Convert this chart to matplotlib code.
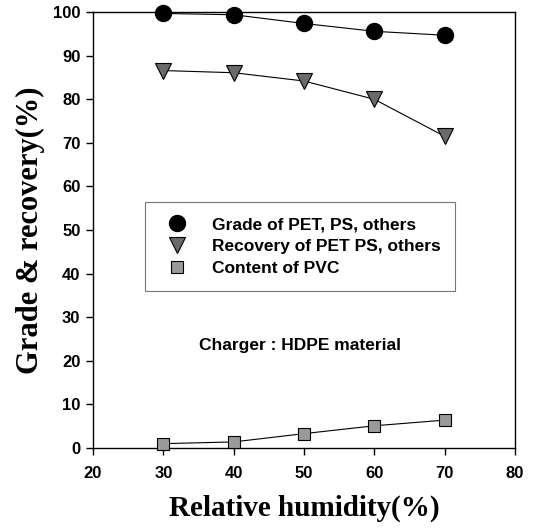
import matplotlib
matplotlib.use("Agg")
import matplotlib.pyplot as plt

humidity = [30, 40, 50, 60, 70]
grade = [99.7, 99.4, 97.4, 95.6, 94.7]
recovery = [86.6, 86.1, 84.2, 80.0, 71.5]
pvc_content = [1.0, 1.4, 3.3, 5.1, 6.4]

xticks = [20, 30, 40, 50, 60, 70, 80]
yticks = [0, 10, 20, 30, 40, 50, 60, 70, 80, 90, 100]

sans = "Liberation Sans"
serif = "Liberation Serif"

fig = plt.figure(figsize=(5.36, 5.28), dpi=100)
ax = fig.add_axes([0.1735, 0.1515, 0.7875, 0.8255])

ax.plot(humidity, grade, color="black", lw=0.8, marker="o", ms=11.5,
        mfc="black", mec="black", clip_on=False, zorder=3,
        label="Grade of PET, PS, others")
ax.plot(humidity, recovery, color="black", lw=0.8, marker="v", ms=11,
        mfc="#6a6a6a", mec="black", mew=0.8, clip_on=False, zorder=3,
        label="Recovery of PET PS, others")
ax.plot(humidity, pvc_content, color="black", lw=0.8, marker="s", ms=8.5,
        mfc="#9a9a9a", mec="black", mew=0.8, clip_on=False, zorder=3,
        label="Content of PVC")

ax.set_xlim(20, 80)
ax.set_ylim(0, 100)
ax.set_xticks(xticks)
ax.set_yticks(yticks)
ax.tick_params(direction="out", length=5, width=1, top=False, right=False)
ax.tick_params(axis="x", pad=8)
ax.tick_params(axis="y", pad=4)
for lab in ax.get_xticklabels() + ax.get_yticklabels():
    lab.set_fontfamily(sans)
    lab.set_fontweight("bold")
    lab.set_fontsize(12)
for s in ax.spines.values():
    s.set_linewidth(1.0)

ax.set_xlabel("Relative humidity(%)", fontfamily=serif, fontweight="bold",
              fontsize=21, labelpad=10)
ax.set_ylabel("Grade & recovery(%)", fontfamily=serif, fontweight="bold",
              fontsize=22, labelpad=6)

leg = ax.legend(loc="upper left", bbox_to_anchor=(0.123, 0.564),
                prop={"family": sans, "weight": "bold", "size": 12.5},
                frameon=True, fancybox=False, edgecolor="#555555",
                borderpad=0.85, labelspacing=0.4, handlelength=2.0,
                handletextpad=1.0, borderaxespad=0)
leg.get_frame().set_linewidth(0.8)
for h in leg.legend_handles:
    h.set_linestyle("None")

ax.text(49.4, 23.6, "Charger : HDPE material",
        ha="center", va="center", fontfamily=sans, fontweight="bold",
        fontsize=12.5)

fig.savefig("out.png", dpi=100)
